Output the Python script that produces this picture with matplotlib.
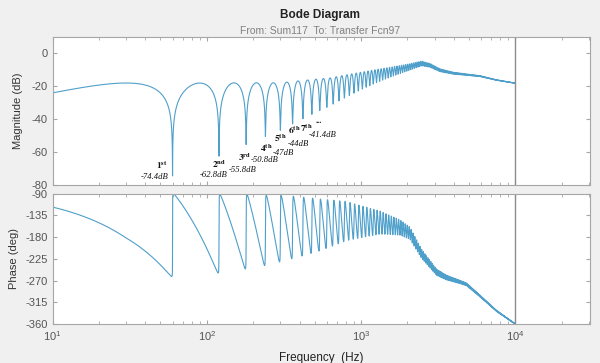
import numpy as np
import matplotlib.pyplot as plt

plt.rcParams['font.family'] = ['Liberation Sans', 'DejaVu Sans']
plt.rcParams['axes.unicode_minus'] = False

# values
comb_f0 = 60.0        # Hz, spacing of the notches
q_cutoff = 1095.0     # Hz, corner of the Q filter (fits the labelled notch depths)
nyquist = 1.0e4

env_freq = [10, 100, 300, 628, 935, 1324, 1975, 2470, 2800, 3250, 3966, 4833, 5900, 7570, 10000]
env_db = [-24, -24, -23.6, -19.8, -15.9, -12.4, -8.5, -6.0, -7.2, -10.2, -12.0, -12.9, -13.8, -16.2, -18.1]

phase_freq = [10, 30, 60, 120, 240, 360, 540, 807, 1324, 1780, 2075, 2470, 3090, 3590, 4380,
              4833, 5340, 5900, 7570, 10000]
phase_env = [-178, -182, -176, -173, -166, -160, -155, -147, -150, -160, -172, -215, -253, -264, -273,
             -278, -290, -302, -333, -360]

notch_num = ['1', '2', '3', '4', '5', '6', '7']
notch_sfx = ['st', 'nd', 'rd', 'th', 'th', 'th', 'th']
notch_db = ['-74.4dB', '-62.8dB', '-55.8dB', '-50.8dB', '-47dB', '-44dB', '-41.4dB']

# label positions (Hz, dB)
num_pos = [(51, -68.1), (120, -67.5), (177, -63), (245, -57.9), (300, -51.7), (370, -46.6), (445, -45.6)]
db_pos = [(46, -75.3), (110, -74.2), (170, -70.6), (237, -64.8), (312, -60.6), (392, -55.2), (560, -49.7)]

# frequency response of the comb
harm = comb_f0 * np.arange(1, int(nyquist // comb_f0) + 1)
f = np.union1d(np.logspace(1, 4, 40000), harm)
q = 1.0 / (1.0 + (f / q_cutoff) ** 2)
C = 1 - q * np.exp(-2j * np.pi * f / comb_f0)
lf = np.log10(f)
mag = np.interp(lf, np.log10(env_freq), env_db) + 20 * np.log10(np.abs(C))
phase = np.interp(lf, np.log10(phase_freq), phase_env) + np.degrees(np.angle(C))

line_c = '#4f9fcb'
spine_c = '#a6a6a6'
tick_c = '#555555'

fig = plt.figure(figsize=(6, 3.63), dpi=100, facecolor='#f0f0f0')
ax1 = fig.add_axes([0.0875, 0.4904, 0.896, 0.4077])
ax2 = fig.add_axes([0.0875, 0.1074, 0.896, 0.3595])

ax1.semilogx(f, mag, color=line_c, lw=0.8)
ax2.semilogx(f, phase, color=line_c, lw=0.8)

for ax in (ax1, ax2):
    ax.set_xlim(10, 10 ** 4.485)
    ax.axvline(nyquist, color='#8c8c8c', lw=1.0)
    ax.tick_params(which='both', direction='in', top=True, right=True, colors=spine_c,
                   labelcolor=tick_c, labelsize=8, length=3)
    ax.tick_params(which='minor', length=2)
    for s in ax.spines.values():
        s.set_color(spine_c)
        s.set_linewidth(0.8)

ax1.set_ylim(-80, 10)
ax1.set_yticks([0, -20, -40, -60, -80])
ax1.tick_params(labelbottom=False)
ax1.set_ylabel('Magnitude (dB)', fontsize=8, color='#333333')
ax1.yaxis.set_label_coords(-0.055, 0.5)

ax2.set_ylim(-360, -90)
ax2.set_yticks([-90, -135, -180, -225, -270, -315, -360])
ax2.set_ylabel('Phase (deg)', fontsize=8, color='#333333')
ax2.yaxis.set_label_coords(-0.062, 0.5)
ax2.set_xlabel('Frequency  (Hz)', fontsize=8.5, color='#222222')
ax2.xaxis.set_label_coords(0.5, -0.215)

for n, s, (x, y) in zip(notch_num, notch_sfx, num_pos):
    ax1.text(x, y, r'$\mathbf{%s}^{\mathbf{%s}}$' % (n, s), math_fontfamily='stix',
             fontsize=6.8, ha='center', va='center', color='#111111')
ax1.text(530, -41.0, '...', fontsize=6, fontweight='bold', ha='center', va='center',
         family='Liberation Serif', color='#111111')
for t, (x, y) in zip(notch_db, db_pos):
    ax1.text(x, y, t, family='Liberation Serif', style='italic', fontsize=6.2,
             ha='center', va='center', color='#111111')

fig.text(320 / 600, 1 - 15 / 363, 'Bode Diagram', fontsize=8.5, fontweight='bold',
         ha='center', va='center', color='#222222')
fig.text(320 / 600, 1 - 31 / 363, 'From: Sum117  To: Transfer Fcn97', fontsize=7.5,
         ha='center', va='center', color='#808080')

fig.savefig('out.png', dpi=100, facecolor=fig.get_facecolor())
